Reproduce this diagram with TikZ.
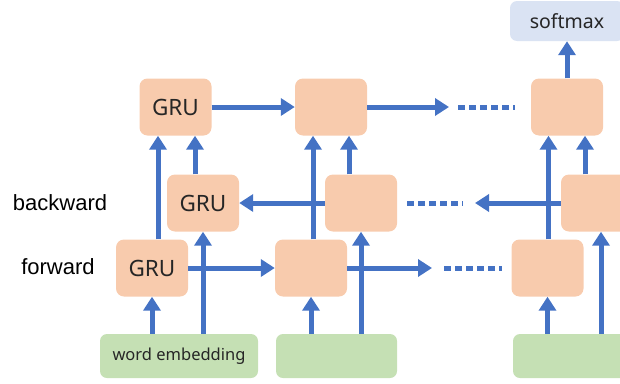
\documentclass[tikz,border=0pt]{standalone}
\usepackage{fontspec}
\newfontfamily\boxfont{Noto Sans}
\newfontfamily\sidefont{Liberation Sans}
\usetikzlibrary{positioning,arrows.meta}
\definecolor{arrowBlue}{HTML}{4472C4}
\definecolor{gruFill}{HTML}{F8CBAD}
\definecolor{embFill}{HTML}{C5E0B4}
\definecolor{outFill}{HTML}{DAE3F3}
\tikzset{
  gru/.style={rectangle, rounded corners=8pt, fill=gruFill, minimum width=72pt, minimum height=57pt, inner sep=0pt, text=black!85, font={\boxfont\fontsize{22.5}{26}\selectfont}},
  emb/.style={rectangle, rounded corners=7pt, fill=embFill, minimum width=121pt, minimum height=44pt, inner sep=0pt, text=black!85, font={\boxfont\fontsize{16.5}{20}\selectfont}},
  outBox/.style={rectangle, rounded corners=7pt, fill=outFill, minimum width=114pt, minimum height=40pt, inner sep=0pt, text=black!85, font={\boxfont\fontsize{19.5}{23}\selectfont}},
  sideLabel/.style={font={\sidefont\fontsize{22}{26}\selectfont}},
  flow/.style={draw=arrowBlue, line width=5pt, -{Triangle[length=14pt,width=17pt]}},
  more/.style={draw=arrowBlue, line width=5pt, dash pattern=on 7pt off 4pt}
}
\begin{document}
\begin{tikzpicture}[x=1pt,y=-1pt]
      \useasboundingbox (0,0) rectangle (620,383);
      \clip (0,0) rectangle (620,383);

      % side labels
      \node[sideLabel] (lblBack) at (60,203) {backward};
      \node[sideLabel] (lblFwd) at (58,267) {forward};

      % first column
      \node[gru] (top1) at (175.5,107) {GRU};
      \node[gru] (bw1) at (203,203) {GRU};
      \node[gru] (fw1) at (152,268) {GRU};
      \node[emb, minimum width=158pt] (emb1) at (179,356) {word embedding};

      % second column
      \node[gru] (top2) at (331,107) {};
      \node[gru] (bw2) at (361,203) {};
      \node[gru] (fw2) at (311,268) {};
      \node[emb] (emb2) at (336.5,356) {};

      % last column
      \node[outBox] (softmax) at (567,21) {softmax};
      \node[gru] (top3) at (567,107) {};
      \node[gru] (bw3) at (597,203) {};
      \node[gru] (fw3) at (547.5,268) {};
      \node[emb] (emb3) at (573.5,356) {};

      % ends of the dotted gaps
      \coordinate (topEnd) at (449,107);
      \coordinate (topDotA) at (458,107);
      \coordinate (topDotB) at (515,107);
      \coordinate (fwEnd) at (432,268);
      \coordinate (fwDotA) at (444,268);
      \coordinate (fwDotB) at (502,268);
      \coordinate (bwEnd) at (475,203);
      \coordinate (bwDotA) at (407,203);
      \coordinate (bwDotB) at (463,203);

      % inputs
      \draw[flow] (emb1.north -| fw1) -- (fw1.south);
      \draw[flow] (emb1.north -| bw1) -- (bw1.south);
      \draw[flow] (emb2.north -| fw2) -- (fw2.south);
      \draw[flow] (emb2.north -| bw2) -- (bw2.south);
      \draw[flow] (emb3.north -| fw3) -- (fw3.south);
      \draw[flow] ([xshift=4pt]emb3.north -| bw3) -- ([xshift=4pt]bw3.south);

      % up to the top layer
      \draw[flow] ([xshift=6pt]fw1.north) -- ([xshift=6pt]fw1.north |- top1.south);
      \draw[flow] ([xshift=-8pt]bw1.north) -- ([xshift=-8pt]bw1.north |- top1.south);
      \draw[flow] ([xshift=2pt]fw2.north) -- ([xshift=2pt]fw2.north |- top2.south);
      \draw[flow] ([xshift=-12pt]bw2.north) -- ([xshift=-12pt]bw2.north |- top2.south);
      \draw[flow] ([xshift=1pt]fw3.north) -- ([xshift=1pt]fw3.north |- top3.south);
      \draw[flow] ([xshift=-12pt]bw3.north) -- ([xshift=-12pt]bw3.north |- top3.south);
      \draw[flow] (top3.north) -- (softmax.south);

      % along the sequence
      \draw[flow] (top1.east) -- (top2.west);
      \draw[flow] (top2.east) -- (topEnd);
      \draw[more] (topDotA) -- (topDotB);
      \draw[flow] (fw1.east) -- (fw2.west);
      \draw[flow] (fw2.east) -- (fwEnd);
      \draw[more] (fwDotA) -- (fwDotB);
      \draw[flow] (bw2.west) -- (bw1.east);
      \draw[flow] (bw3.west) -- (bwEnd);
      \draw[more] (bwDotA) -- (bwDotB);
    \end{tikzpicture}
\end{document}
